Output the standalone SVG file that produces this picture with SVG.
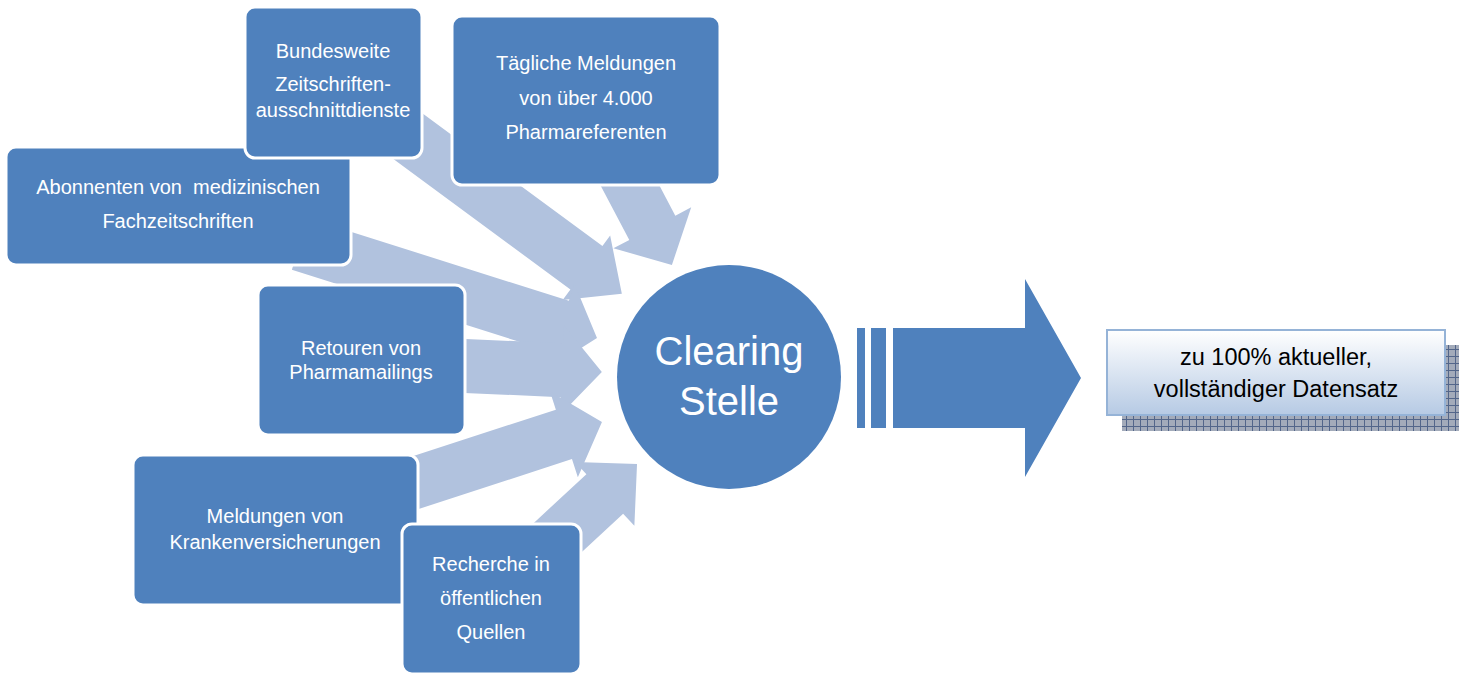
<svg xmlns="http://www.w3.org/2000/svg" width="1465" height="675" viewBox="0 0 1465 675">
<defs>
<style>
.box{fill:#4F81BD;stroke:#FFFFFF;stroke-width:3}
.arr{fill:#B1C2DE}
.t{font-family:"Liberation Sans",Arial,sans-serif;font-size:20px;fill:#FFFFFF;text-anchor:middle;white-space:pre}
.big{font-family:"Liberation Sans",Arial,sans-serif;font-size:40px;fill:#FFFFFF;text-anchor:middle}
.out{font-family:"Liberation Sans",Arial,sans-serif;font-size:23.5px;fill:#000000;text-anchor:middle}
</style>
<linearGradient id="g" x1="0" y1="0" x2="0" y2="1">
<stop offset="0" stop-color="#FFFFFF"/>
<stop offset="1" stop-color="#B6CAE4"/>
</linearGradient>
<pattern id="hatch" width="7" height="7" patternUnits="userSpaceOnUse">
<rect width="7" height="7" fill="#A3ABBA"/>
<path d="M0,6.5 H7 M6.5,0 V7" stroke="#53668A" stroke-width="1"/>
</pattern>
</defs>
<g id="connectors">
<path class="arr" d="M0,-27 H249 V-40 L293,0 L249,40 V27 H0 Z" transform="translate(386,120) rotate(36.4)"/>
<path class="arr" d="M0,-26 H80 V-44 L122,0 L80,44 V26 H0 Z" transform="translate(615,157) rotate(62.2)"/>
<path class="arr" d="M0,-27 H273.5 V-45 L311.5,0 L273.5,45 V27 H0 Z" transform="translate(300,244) rotate(17.56)"/>
<path class="arr" d="M0,-27 H142 V-45 L182,0 L142,45 V27 H0 Z" transform="translate(420,364) rotate(2.5)"/>
<path class="arr" d="M0,-26 H182.9 V-45 L222.9,0 L182.9,45 V26 H0 Z" transform="translate(390,491) rotate(-18.03)"/>
<path class="arr" d="M0,-27 H79.5 V-43.5 L123.5,0 L79.5,43.5 V27 H0 Z" transform="translate(546.5,548) rotate(-42.86)"/>
</g>
<g id="abonnenten">
<rect class="box" x="6" y="147" width="345" height="118" rx="10"/>
<text class="t" x="178" y="194">Abonnenten von  medizinischen</text>
<text class="t" x="178" y="228">Fachzeitschriften</text>
</g>
<g id="bundesweite">
<rect class="box" x="245" y="7" width="177" height="151" rx="10"/>
<text class="t" x="333" y="58">Bundesweite</text>
<text class="t" x="333" y="91">Zeitschriften-</text>
<text class="t" x="333" y="117">ausschnittdienste</text>
</g>
<g id="taegliche">
<rect class="box" x="452" y="16" width="268" height="169" rx="10"/>
<text class="t" x="586" y="70">Tägliche Meldungen</text>
<text class="t" x="586" y="105">von über 4.000</text>
<text class="t" x="586" y="139">Pharmareferenten</text>
</g>
<g id="retouren">
<rect class="box" x="258" y="285" width="207" height="150" rx="10"/>
<text class="t" x="361" y="355">Retouren von</text>
<text class="t" x="361" y="379">Pharmamailings</text>
</g>
<g id="meldungen">
<rect class="box" x="133" y="455" width="285" height="150" rx="10"/>
<text class="t" x="275" y="523">Meldungen von</text>
<text class="t" x="275" y="549">Krankenversicherungen</text>
</g>
<g id="recherche">
<rect class="box" x="402" y="524" width="179" height="150" rx="10"/>
<text class="t" x="491" y="571">Recherche in</text>
<text class="t" x="491" y="605">öffentlichen</text>
<text class="t" x="491" y="639">Quellen</text>
</g>
<g id="clearing">
<circle cx="729" cy="377" r="112" fill="#4F81BD"/>
<text class="big" x="729" y="365">Clearing</text>
<text class="big" x="729" y="415">Stelle</text>
</g>
<g id="result-arrow">
<rect x="857" y="328" width="8" height="100" fill="#4F81BD"/>
<rect x="871" y="328" width="15" height="100" fill="#4F81BD"/>
<path d="M893,328 H1025 V279 L1081,378 L1025,477 V428 H893 Z" fill="#4F81BD"/>
</g>
<g id="datensatz">
<rect x="1122" y="345" width="337" height="86" fill="url(#hatch)"/>
<rect x="1107" y="330" width="338" height="85" fill="url(#g)" stroke="#95B3D7" stroke-width="2"/>
<text class="out" x="1276" y="365">zu 100% aktueller,</text>
<text class="out" x="1276" y="397">vollständiger Datensatz</text>
</g>
</svg>
